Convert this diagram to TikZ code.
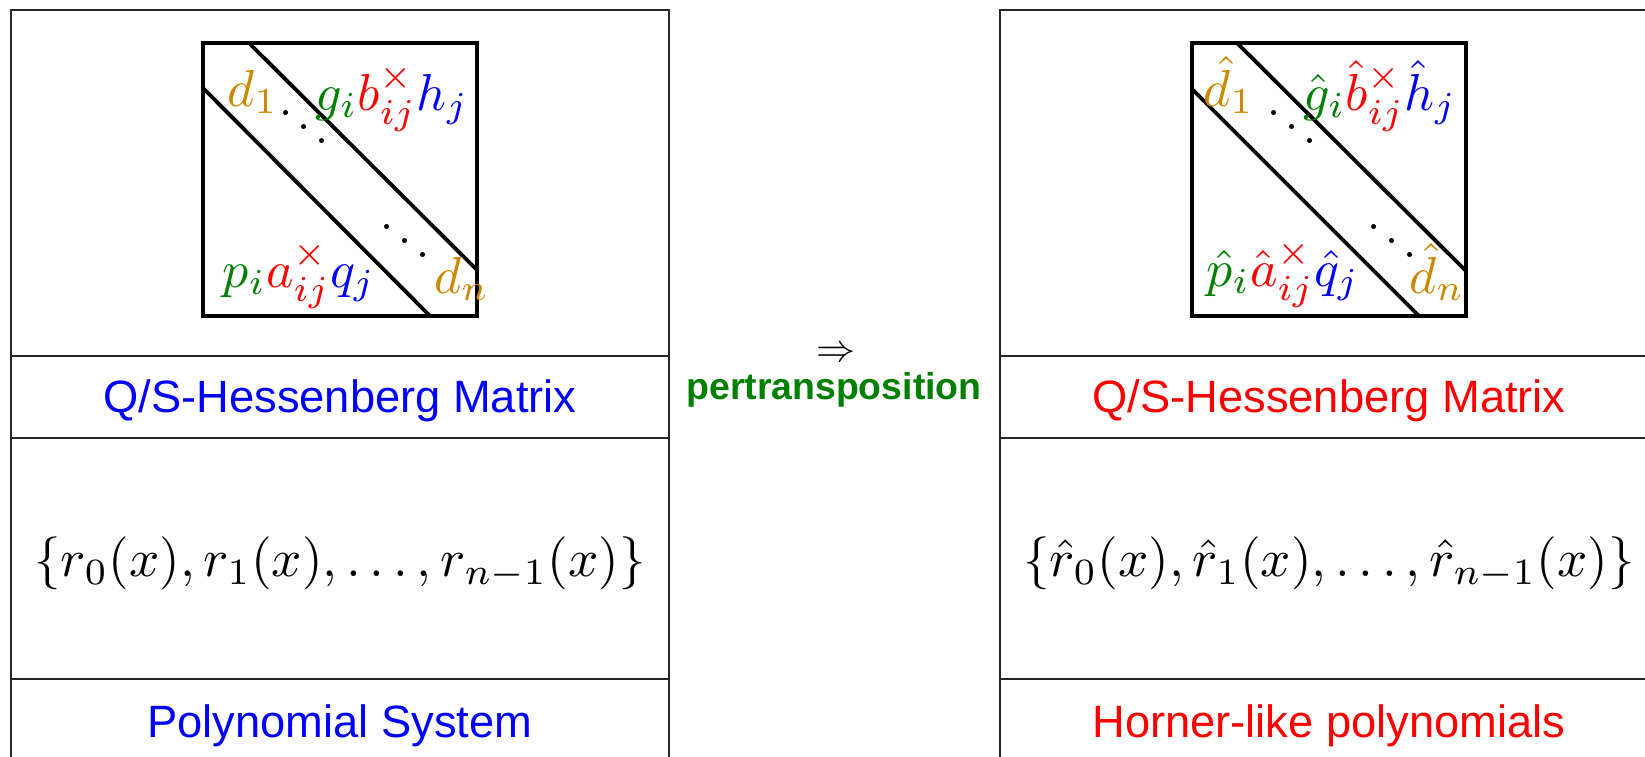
\documentclass[tikz,border=0pt]{standalone}
\usepackage{fontspec}
\setsansfont{Liberation Sans}
\definecolor{dgold}{RGB}{204,136,0}
\definecolor{dgreen}{RGB}{0,128,0}
\definecolor{dblue}{RGB}{0,0,255}
\definecolor{dred}{RGB}{255,0,0}
\begin{document}
\begin{tikzpicture}[x=1pt,y=-1pt,
  panel/.style={line width=1.4pt, draw=black!85},
  mline/.style={line width=3.8pt, draw=black},
  mlab/.style={inner sep=0pt, scale=5.2, anchor=base},
  dotlab/.style={inner sep=0pt, scale=4.7, anchor=base},
  setlab/.style={inner sep=0pt, scale=5.3, anchor=center},
  caption/.style={inner sep=0pt, anchor=base, font=\sffamily\fontsize{45.3}{54}\selectfont},
  midlab/.style={inner sep=0pt, anchor=base, text=dgreen, font=\sffamily\bfseries\fontsize{37.4}{45}\selectfont}
]
\clip (0,0) rectangle (1645,756);
% left panel
\draw[panel] (11,770) -- (11,10) -- (669,10) -- (669,770);
\draw[panel] (11,356) -- (669,356);
\draw[panel] (11,438) -- (669,438);
\draw[panel] (11,679) -- (669,679);
% right panel
\draw[panel] (1000,770) -- (1000,10) -- (1658,10) -- (1658,770);
\draw[panel] (1000,356) -- (1658,356);
\draw[panel] (1000,438) -- (1658,438);
\draw[panel] (1000,679) -- (1658,679);
% left matrix
\draw[mline] (203,43) rectangle (477,316);
\draw[mline] (249,43) -- (477,270);
\draw[mline] (203,88) -- (430,316);
\node[mlab] (ld1) at (253,106) {$\color{dgold}d_1$};
\node[mlab] (lgbh) at (392,110) {$\color{dgreen}g_i\color{dred}b_{ij}^{\times}\color{dblue}h_j$};
\node[mlab] (lpaq) at (299,287) {$\color{dgreen}p_i\color{dred}a_{ij}^{\times}\color{dblue}q_j$};
\node[mlab] (ldn) at (462,293) {$\color{dgold}d_n$};
\node[dotlab] (ldd1) at (304,148) {$\ddots$};
\node[dotlab] (ldd2) at (405,262) {$\ddots$};
% right matrix
\draw[mline] (1192,43) rectangle (1466,316);
\draw[mline] (1237,43) -- (1466,271);
\draw[mline] (1192,89) -- (1419,316);
\node[mlab] (rd1) at (1229,106) {$\color{dgold}\hat{d}_1$};
\node[mlab] (rgbh) at (1380,110) {$\color{dgreen}\hat{g}_i\color{dred}\hat{b}_{ij}^{\times}\color{dblue}\hat{h}_j$};
\node[mlab] (rpaq) at (1283,286) {$\color{dgreen}\hat{p}_i\color{dred}\hat{a}_{ij}^{\times}\color{dblue}\hat{q}_j$};
\node[mlab] (rdn) at (1437,293) {$\color{dgold}\hat{d}_n$};
\node[dotlab] (rdd1) at (1292,148) {$\ddots$};
\node[dotlab] (rdd2) at (1392,262) {$\ddots$};
% captions
\node[caption, text=dblue] (lcap1) at (340,412) {Q/S-Hessenberg Matrix};
\node[caption, text=dblue] (lcap2) at (340,737) {Polynomial System};
\node[caption, text=dred] (rcap1) at (1329,412) {Q/S-Hessenberg Matrix};
\node[caption, text=dred] (rcap2) at (1329,737) {Horner-like polynomials};
% sets
\node[setlab] (lset) at (340,563) {$\{r_0(x), r_1(x), \ldots, r_{n-1}(x)\}$};
\node[setlab] (rset) at (1329,563) {$\{\hat{r}_0(x), \hat{r}_1(x), \ldots, \hat{r}_{n-1}(x)\}$};
% middle
\node[inner sep=0pt, scale=3.9, anchor=base] (arr) at (836,361) {$\Rightarrow$};
\node[midlab] (pert) at (834,399) {pertransposition};
\end{tikzpicture}
\end{document}
